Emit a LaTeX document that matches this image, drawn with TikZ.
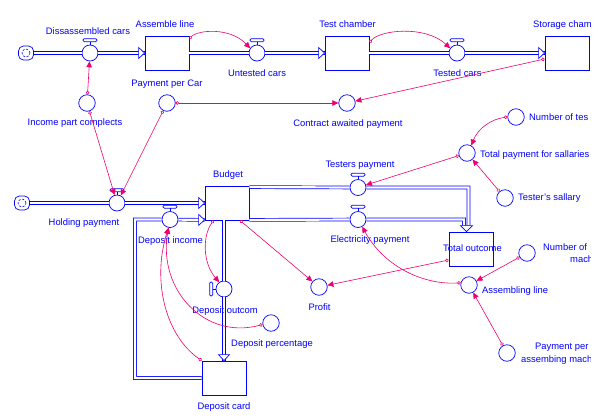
\documentclass[tikz,border=0pt]{standalone}
\usepackage{fontspec}
\setmainfont{Liberation Sans}
\usetikzlibrary{arrows.meta}
\definecolor{flowblue}{RGB}{0,0,255}
\definecolor{linkpink}{RGB}{240,0,110}
% T-shaped handle on top of a flow valve
\newcommand{\valvecap}[1]{%
  \draw[flowblue,line width=0.7pt] (#1.north) -- ([yshift=3pt]#1.north);
  \draw[flowblue,line width=0.7pt,rounded corners=1.2pt]
    ([xshift=-7pt,yshift=3pt]#1.north) rectangle ([xshift=7pt,yshift=6pt]#1.north);}
% handle on the left side of a vertical flow valve
\newcommand{\valveside}[1]{%
  \draw[flowblue,line width=0.7pt] (#1.west) -- ([xshift=-3pt]#1.west);
  \draw[flowblue,line width=0.7pt,rounded corners=1.2pt]
    ([xshift=-6pt,yshift=-7pt]#1.west) rectangle ([xshift=-3pt,yshift=7pt]#1.west);}
\begin{document}
\begin{tikzpicture}[x=1pt,y=-1pt,
  every node/.style={font=\fontsize{9.4}{11}\selectfont, text=flowblue, inner sep=0pt,
    text height=7.5pt, text depth=1.5pt},
  stock/.style={rectangle, draw=flowblue, line width=0.8pt, minimum width=44pt, minimum height=34pt},
  aux/.style={circle, draw=flowblue, line width=0.7pt, minimum size=16.5pt},
  valve/.style={circle, draw=flowblue, line width=0.7pt, minimum size=16pt},
  sourcecloud/.style={rectangle, rounded corners=5pt, draw=flowblue, line width=0.7pt,
    minimum width=15pt, minimum height=14pt, text height=0pt, text depth=0pt,
    path picture={\draw[flowblue,line width=0.6pt,dash pattern=on 2.2pt off 1.6pt]
      (path picture bounding box.center) circle[radius=4pt];}},
  flowpipe/.style={draw=flowblue, line width=0.7pt, double=white, double distance=2.2pt},
  flowtip/.style={draw=flowblue, fill=white, line width=0.7pt, line join=miter},
  infolink/.style={draw=linkpink, line width=0.6pt,
    {Circle[open,length=3.5pt,width=3.5pt]}-{Triangle[length=6pt,width=5.5pt]}}]

\path[fill=white,use as bounding box] (0,0) rectangle (610,416);
\begin{scope}
\clip (0,0) rectangle (590,416);

% ---------- production line ----------
\node[sourcecloud] (cloudA) at (26,53) {};
\node[valve] (vDis) at (90,53) {};
\node[stock] (sAssem) at (167,53) {};
\node[valve] (vUnt) at (257,53) {};
\node[stock] (sTest) at (347,53) {};
\node[valve] (vTested) at (457,53) {};
\node[stock] (sStore) at (567,53) {};

\draw[flowpipe] (cloudA) -- (vDis) -- (sAssem.west);
\draw[flowpipe] (sAssem.east) -- (vUnt) -- (sTest.west);
\draw[flowpipe] (sTest.east) -- (vTested) -- (sStore.west);
\draw[flowtip] (sAssem.west) -- ++(-6,-5.5) -- ++(0,11) -- cycle;
\draw[flowtip] (sTest.west) -- ++(-6,-5.5) -- ++(0,11) -- cycle;
\draw[flowtip] (sStore.west) -- ++(-6,-5.5) -- ++(0,11) -- cycle;
\valvecap{vDis}
\valvecap{vUnt}
\valvecap{vTested}

\node (tDis) at (88,31) {Dissassembled cars};
\node (tAssem) at (165,24) {Assemble line};
\node (tUnt) at (257,73) {Untested cars};
\node (tTest) at (347.5,24) {Test chamber};
\node (tTested) at (457.5,73) {Tested cars};
\node[anchor=west] (tStore) at (533,24) {Storage cham};

% ---------- payments ----------
\node[aux] (aIncome) at (87,103) {};
\node[aux] (aPayCar) at (167,103) {};
\node[aux] (aContract) at (347,103) {};
\node (tIncome) at (75,122) {Income part complects};
\node (tPayCar) at (167,83) {Payment per Car};
\node (tContract) at (348,123) {Contract awaited payment};

% ---------- budget ----------
\node[sourcecloud] (cloudB) at (22,203) {};
\node[valve] (vHold) at (117,203) {};
\node[stock] (sBudget) at (227,203) {};
\node[valve] (vDepIn) at (170,219.5) {};
\node[valve] (vDepOut) at (224,289) {};
\node[stock] (sDepCard) at (224,378) {};
\node[aux] (aDepPerc) at (271,323) {};
\node[aux] (aProfit) at (319,287) {};
\node[valve] (vTesters) at (358,187.5) {};
\node[valve] (vElec) at (358,219.5) {};
\node[stock] (sTotal) at (471,249) {};
\node[aux] (aTotPay) at (467,153) {};
\node[aux] (aNumTest) at (516,117) {};
\node[aux] (aTestSal) at (505,198) {};
\node[aux] (aAssLine) at (469,285) {};
\node[aux] (aNumMach) at (527,253) {};
\node[aux] (aPayMach) at (507,353) {};

\coordinate (depBend) at (135,219.5);
\coordinate (tBendA) at (468.5,187.5);
\coordinate (tDownA) at (468.5,227);
\coordinate (tBendB) at (464,219.5);
\coordinate (tDownB) at (464,227);

\draw[flowpipe] (cloudB) -- (vHold) -- (sBudget.west);
\draw[flowpipe] (sDepCard.west) -| (depBend) -- (vDepIn) -- ([yshift=0.5pt]sBudget.south west);
\draw[flowpipe] ([xshift=-3pt]sBudget.south) -- (vDepOut) -- (sDepCard.north);
\draw[flowpipe] ([yshift=-1.5pt]sBudget.north east) -- (vTesters) -- (tBendA) -- (tDownA);
\draw[flowpipe] ([yshift=0.5pt]sBudget.south east) -- (vElec) -- (tBendB) -- (tDownB);
\draw[flowtip] (sBudget.west) -- ++(-6,-5.5) -- ++(0,11) -- cycle;
\draw[flowtip] ([yshift=0.5pt]sBudget.south west) -- ++(-6,-5.5) -- ++(0,11) -- cycle;
\draw[flowtip] (sDepCard.north) -- ++(-5.5,-6) -- ++(11,0) -- cycle;
\draw[flowtip] ([xshift=-4.5pt]sTotal.north) -- ++(-6,-6) -- ++(12,0) -- cycle;
\valvecap{vHold}
\valvecap{vDepIn}
\valvecap{vTesters}
\valvecap{vElec}
\valveside{vDepOut}

\node (tHold) at (84,222) {Holding payment};
\node (tBudget) at (228,174) {Budget};
\node (tDepIn) at (170.5,240) {Deposit income};
\node (tDepOut) at (225,310) {Deposit outcom};
\node (tDepCard) at (224,406) {Deposit card};
\node (tDepPerc) at (272,343) {Deposit percentage};
\node (tProfit) at (319.5,307) {Profit};
\node (tTesters) at (360,164) {Testers payment};
\node (tElec) at (370,239) {Electricity payment};
\node (tTotal) at (472.5,248) {Total outcome};
\node[anchor=west] (tTotPay) at (480,154) {Total payment for sallaries};
\node[anchor=west] (tNumTest) at (529,117) {Number of tes};
\node[anchor=west] (tTestSal) at (518,197) {Tester's sallary};
\node[anchor=west] (tAssLine) at (482,290) {Assembling line};
\node[anchor=west] (tNumMachA) at (543,247) {Number of};
\node[anchor=west] (tNumMachB) at (570,259) {mach};
\node[anchor=west] (tPayMachA) at (535,346) {Payment per};
\node[anchor=west] (tPayMachB) at (521,359) {assembing mach};

% ---------- information links ----------
\draw[infolink] (aIncome) -- (vDis);
\draw[infolink] (aIncome) -- (vHold);
\draw[infolink] (aPayCar) -- (vHold);
\draw[infolink] (aPayCar) -- (aContract);
\draw[infolink] ([yshift=-6pt]sStore.west) -- (aContract);
\draw[infolink] ([yshift=-3pt]sAssem.north east) .. controls (198,30) and (230,27) .. (vUnt.145);
\draw[infolink] ([yshift=-7pt]sTest.north east) .. controls (380,30) and (425,25) .. (vTested.145);
\draw[infolink] ([xshift=9pt]sBudget.south west) .. controls (203,235) and (202,262) .. (vDepOut.125);
\draw[infolink] ([xshift=13pt]sBudget.south) -- (aProfit);
\draw[infolink] ([yshift=-11pt]sTotal.west) -- (aProfit);
\draw[infolink] (aAssLine.165) .. controls (425,285) and (385,268) .. (vElec.-60);
\draw[infolink] (aNumMach) -- (aAssLine);
\draw[infolink] (aPayMach) -- (aAssLine);
\draw[infolink] (aTotPay) -- (vTesters);
\draw[infolink] (aNumTest.west) .. controls (492,119) and (478,128) .. (aTotPay.60);
\draw[infolink] (aTestSal) -- (aTotPay);
\draw[infolink] (aDepPerc.190) .. controls (205,340) and (158,290) .. (vDepIn.-100);
\draw[infolink] (sDepCard.north west) .. controls (165,335) and (152,280) .. (vDepIn.-100);
\end{scope}
\end{tikzpicture}
\end{document}
